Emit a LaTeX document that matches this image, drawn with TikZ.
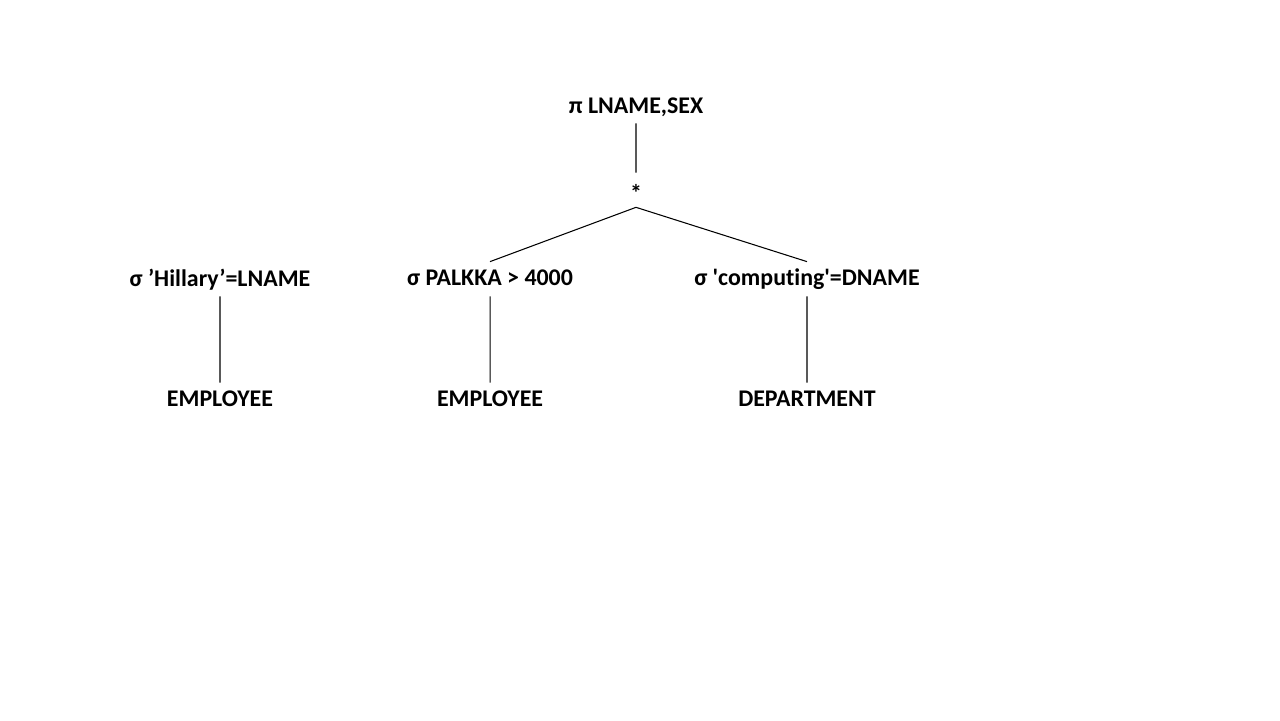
\documentclass[tikz,border=0pt]{standalone}
\usepackage{fontspec}
\setmainfont{Carlito}[Ligatures={TeXOff,NoCommon}]
\usepackage{tikz}

\begin{document}
\begin{tikzpicture}[x=0.02cm,y=-0.02cm,
	lbl/.style={font=\bfseries\fontsize{13.6}{16}\selectfont, text height=0.28cm, text depth=0pt, inner xsep=2pt, inner ysep=0.2cm},
	edge from parent/.style={draw, line width=0.6pt},
	parent anchor=south, child anchor=north,
	level 1/.style={level distance=1.68cm},
	level 2/.style={level distance=1.78cm, sibling distance=6.34cm},
	level 3/.style={level distance=2.42cm}]
\useasboundingbox (0,0) rectangle (1280,720);
\node [lbl] (proj) at (636,106) {π LNAME,SEX}
	child{node [lbl] (join) {\raisebox{-2.5pt}{*}}
		child{node [lbl, xshift=0.25cm] (selpay) {σ PALKKA > 4000}
			child{node [lbl] (emp2) {EMPLOYEE}}}
		child{node [lbl, xshift=0.25cm] (seldep) {σ 'computing'=DNAME}
			child{node [lbl] (dep) {DEPARTMENT}}}};
\node [lbl] (selname) at (220,279) {σ ’Hillary’=LNAME}
	child[level distance=2.42cm]{node [lbl] (emp1) {EMPLOYEE}};
\end{tikzpicture}
\end{document}
